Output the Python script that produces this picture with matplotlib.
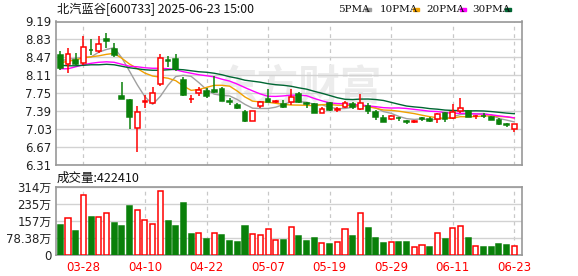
import numpy as np
import pandas as pd
import matplotlib
matplotlib.use("Agg")
import matplotlib.pyplot as plt

plt.rcParams['font.family'] = ['DejaVu Sans', 'Noto Sans CJK SC']

# ---- data --------------------------------------------------------------
dates = ["03-25", "03-26", "03-27", "03-28", "03-31", "04-01", "04-02", "04-03",
         "04-07", "04-08", "04-09", "04-10", "04-11", "04-14", "04-15", "04-16",
         "04-17", "04-18", "04-21", "04-22", "04-23", "04-24", "04-25", "04-28",
         "04-29", "04-30", "05-06", "05-07", "05-08", "05-09", "05-12", "05-13",
         "05-14", "05-15", "05-16", "05-19", "05-20", "05-21", "05-22", "05-23",
         "05-26", "05-27", "05-28", "05-29", "05-30", "06-03", "06-04", "06-05",
         "06-06", "06-09", "06-10", "06-11", "06-12", "06-13", "06-16", "06-17",
         "06-18", "06-19", "06-20", "06-23"]

opens = [8.51, 8.33, 8.41, 8.35, 8.62, 8.60, 8.83, 8.63, 7.70, 7.62,
         7.05, 7.57, 7.55, 7.93, 8.41, 8.43, 8.01, 7.63, 7.75, 7.80,
         7.82, 7.84, 7.59, 7.52, 7.38, 7.20, 7.49, 7.64, 7.58, 7.54,
         7.57, 7.74, 7.55, 7.53, 7.35, 7.55, 7.42, 7.48, 7.54, 7.43,
         7.50, 7.38, 7.26, 7.23, 7.26, 7.20, 7.18, 7.25, 7.23, 7.23,
         7.35, 7.25, 7.40, 7.40, 7.29, 7.30, 7.28, 7.22, 7.12, 7.02]
highs = [8.59, 8.65, 8.55, 8.90, 8.83, 8.89, 8.95, 8.76, 7.97, 7.64,
         7.50, 7.72, 7.87, 8.53, 8.50, 8.53, 8.08, 7.71, 7.88, 7.85,
         8.09, 7.87, 7.65, 7.55, 7.42, 7.40, 7.60, 7.83, 7.61, 7.62,
         7.83, 7.78, 7.58, 7.55, 7.48, 7.57, 7.47, 7.60, 7.58, 7.74,
         7.55, 7.42, 7.32, 7.32, 7.28, 7.22, 7.21, 7.28, 7.27, 7.35,
         7.38, 7.54, 7.66, 7.42, 7.32, 7.35, 7.30, 7.25, 7.15, 7.12]
lows = [8.22, 8.15, 8.31, 8.31, 8.51, 8.55, 8.65, 8.47, 7.64, 7.02,
        6.57, 7.46, 7.54, 7.90, 8.28, 8.19, 7.69, 7.56, 7.70, 7.66,
        7.76, 7.59, 7.52, 7.43, 7.17, 7.19, 7.46, 7.57, 7.56, 7.46,
        7.52, 7.56, 7.46, 7.35, 7.35, 7.40, 7.38, 7.45, 7.43, 7.42,
        7.34, 7.22, 7.18, 7.22, 7.19, 7.14, 7.16, 7.20, 7.17, 7.16,
        7.18, 7.23, 7.35, 7.27, 7.23, 7.25, 7.21, 7.10, 7.07, 6.97]
closes = [8.25, 8.53, 8.33, 8.67, 8.61, 8.73, 8.80, 8.51, 7.64, 7.27,
          7.37, 7.59, 7.75, 8.45, 8.39, 8.24, 7.72, 7.64, 7.82, 7.69,
          7.78, 7.60, 7.58, 7.46, 7.20, 7.40, 7.57, 7.58, 7.59, 7.47,
          7.67, 7.58, 7.54, 7.36, 7.43, 7.42, 7.44, 7.56, 7.48, 7.56,
          7.40, 7.28, 7.18, 7.30, 7.25, 7.18, 7.20, 7.24, 7.19, 7.34,
          7.24, 7.38, 7.45, 7.28, 7.30, 7.29, 7.22, 7.12, 7.11, 7.12]
prev_close = 8.47  # close of the day before 03-25 (volume colour only)

# volume in 万 (10k shares)
volumes = [138, 169, 111, 275, 175, 175, 195, 147, 134, 225,
           205, 160, 143, 292, 156, 134, 238, 97, 102, 74,
           102, 93, 65, 61, 134, 97, 93, 120, 70, 70,
           129, 88, 65, 79, 56, 51, 61, 120, 88, 193,
           124, 79, 56, 61, 61, 61, 38, 47, 38, 102,
           74, 124, 134, 79, 42, 38, 38, 51, 47, 42.241]

# moving-average values shown before each window is full
ma5_lead = [8.40, 8.43, 8.45, 8.47]
ma10_lead = [8.36, 8.39, 8.42, 8.46, 8.48, 8.50, 8.53, 8.55, 8.45]
ma20_lead = [8.24, 8.24, 8.28, 8.32, 8.35, 8.37, 8.38, 8.37, 8.33, 8.29,
             8.28, 8.26, 8.25, 8.25, 8.24, 8.22, 8.18, 8.15, 8.12]
ma30_lead = [8.31, 8.30, 8.30, 8.31, 8.32, 8.32, 8.33, 8.32, 8.29, 8.26,
             8.24, 8.22, 8.21, 8.21, 8.22, 8.23, 8.22, 8.20, 8.18, 8.17,
             8.15, 8.12, 8.08, 8.05, 8.01, 7.99, 7.97, 7.94, 7.92]

tick_dates = ["03-28", "04-10", "04-22", "05-07", "05-19", "05-29", "06-11", "06-23"]
price_ticks = [6.31, 6.67, 7.03, 7.39, 7.75, 8.11, 8.47, 8.83, 9.19]
vol_ticks = [0, 78.38, 156.76, 235.14, 313.52]
vol_tick_labels = ["0", "78.38万", "157万", "235万", "314万"]

# ---- helpers -------------------------------------------------------------
RED = "#ff0000"
GREEN = "#0a800a"
FRAME = "#989898"
GRID = "#d2d2d2"
W, H = 578, 276


def px_axes(fig, left, top, right, bottom):
    return fig.add_axes([left / W, 1 - bottom / H, (right - left) / W, (bottom - top) / H])


def moving_average(values, n, lead):
    ma = pd.Series(values).rolling(n).mean().to_numpy()
    ma[:n - 1] = lead
    return ma


def style_axes(ax, xpos):
    for s in ax.spines.values():
        s.set_color(FRAME)
        s.set_linewidth(1.2)
    ax.tick_params(length=0, pad=3, labelsize=8.5, colors="#222222")
    ax.grid(axis="y", color=GRID, linewidth=1, zorder=0)
    for x in xpos:
        ax.axvline(x, color="#c8c8c8", linestyle=(0, (3, 3)), linewidth=0.9, zorder=0)
    ax.set_xlim(-0.6, len(dates) - 1 + 1.04)


x = np.arange(len(dates))
o = np.array(opens)
h = np.array(highs)
l = np.array(lows)
c = np.array(closes)
v = np.array(volumes)
up = c >= o
prev = np.concatenate([[prev_close], c[:-1]])
vol_up = c >= prev
tick_pos = [dates.index(d) for d in tick_dates]

fig = plt.figure(figsize=(W / 100, H / 100), dpi=100)
fig.patch.set_facecolor("white")

# ---- price panel ---------------------------------------------------------
ax = px_axes(fig, 55.7, 21.5, 522.3, 164.8)
style_axes(ax, tick_pos)
ax.set_ylim(price_ticks[0], price_ticks[-1])
ax.set_yticks(price_ticks)
ax.set_yticklabels([f"{t:.2f}" for t in price_ticks])
ax.set_xticks([])

ax.text(0.52, 0.54, "东方财富", transform=ax.transAxes, fontsize=30,
        color="#ececec", ha="center", va="center", family="Noto Sans CJK SC",
        fontweight="bold", zorder=1)

ma_specs = [(5, ma5_lead, "#a0a0a0"), (10, ma10_lead, "#f0a000"),
            (20, ma20_lead, "#ff00ff"), (30, ma30_lead, "#006633")]
for n, lead, col in ma_specs:
    ax.plot(x, moving_average(c, n, lead), color=col, linewidth=1.0, zorder=2)

colors = np.where(up, RED, GREEN)
ax.vlines(x, l, h, colors=colors, linewidth=1.1, zorder=3)
body_lo = np.minimum(o, c)
body_h = np.maximum(np.abs(c - o), 0.006)
ax.bar(x[up], body_h[up], bottom=body_lo[up], width=0.62,
       facecolor="white", edgecolor=RED, linewidth=1.1, zorder=4)
ax.bar(x[~up], body_h[~up], bottom=body_lo[~up], width=0.62,
       facecolor=GREEN, edgecolor=GREEN, linewidth=1.1, zorder=4)

# ---- volume panel --------------------------------------------------------
axv = px_axes(fig, 55.7, 186.7, 522.3, 255.3)
style_axes(axv, tick_pos)
axv.set_ylim(0, vol_ticks[-1])
axv.set_yticks(vol_ticks)
axv.set_yticklabels(vol_tick_labels, family=["DejaVu Sans", "Noto Sans CJK SC"])
axv.set_xticks(tick_pos)
axv.set_xticklabels(tick_dates, color=RED, fontsize=8.5)
axv.tick_params(axis="x", pad=4, colors=RED)
axv.bar(x[vol_up], v[vol_up], width=0.66, facecolor="white",
        edgecolor=RED, linewidth=1.1, zorder=3)
axv.bar(x[~vol_up], v[~vol_up], width=0.66, facecolor=GREEN,
        edgecolor=GREEN, linewidth=1.1, zorder=3)

# ---- header texts --------------------------------------------------------
fig.text(57 / W, 1 - 9.5 / H, "北汽蓝谷[600733] 2025-06-23 15:00", fontsize=8.8,
         family=["Noto Sans CJK SC", "DejaVu Sans"], va="center", ha="left", color="#111111")
fig.text(57 / W, 1 - 178 / H, "成交量:422410", fontsize=9,
         family=["Noto Sans CJK SC", "DejaVu Sans"], va="center", ha="left", color="#111111")

legend = [("5PMA", 338, 365, "#a0a0a0"), ("10PMA", 380, 413, "#f0a000"),
          ("20PMA", 426, 460, "#ff00ff"), ("30PMA", 472, 505, "#006633")]
for label, tx, mx, col in legend:
    fig.text(tx / W, 1 - 9.5 / H, label, fontsize=7.5, family="DejaVu Serif",
             va="center", ha="left", color="#111111")
    fig.patches.append(plt.Rectangle((mx / W, 1 - 11 / H), 6 / W, 3 / H,
                                     transform=fig.transFigure, color=col))

fig.savefig("out.png", dpi=100)
